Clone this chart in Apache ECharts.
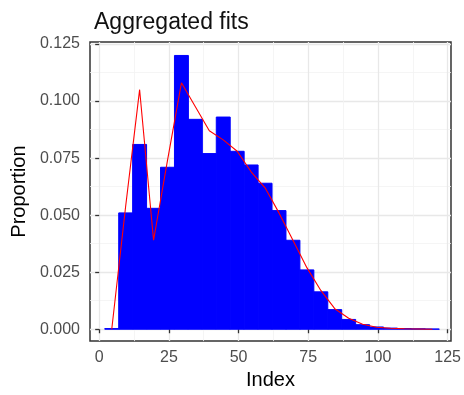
<!DOCTYPE html>
<html>
<head>
<meta charset="utf-8">
<script src="https://cdn.jsdelivr.net/npm/echarts@6/dist/echarts.min.js"></script>
<style>
  html, body { margin: 0; padding: 0; background: #fff; }
  #chart { width: 464px; height: 395px; }
</style>
</head>
<body>
<div id="chart"></div>
<script>
// bin centres (width 5) and observed proportions
const binCenters = [4.5, 9.5, 14.5, 19.5, 24.5, 29.5, 34.5, 39.5, 44.5, 49.5, 54.5, 59.5,
                    64.5, 69.5, 74.5, 79.5, 84.5, 89.5, 94.5, 99.5, 104.5, 109.5, 114.5, 119.5];
const proportion = [0.0003, 0.051, 0.081, 0.053, 0.071, 0.120, 0.092, 0.077, 0.093, 0.078, 0.072, 0.064,
                    0.052, 0.039, 0.026, 0.0164, 0.0086, 0.0043, 0.002, 0.001, 0.0005, 0.0003, 0.0002, 0.0001];
// aggregated fit (red line)
const fitted = [0, 0.054, 0.105, 0.039, 0.074, 0.108, 0.0975, 0.087, 0.083, 0.078, 0.069, 0.062,
                0.051, 0.039, 0.027, 0.017, 0.009, 0.0048, 0.0022, 0.0009, 0.0004, 0.0002, 0.0001, 0];
const binWidth = 5;

const xTicks = [0, 25, 50, 75, 100, 125];
const xMinor = [12.5, 37.5, 62.5, 87.5, 112.5];
const yTicks = [0, 0.025, 0.05, 0.075, 0.1, 0.125];
const yMinor = [0.0125, 0.0375, 0.0625, 0.0875, 0.1125];

const FONT = "'Liberation Sans', Arial, sans-serif";
const X_MIN = -3.3, X_MAX = 126.2;
const Y_MIN = -0.0052, Y_MAX = 0.1259;

const chart = echarts.init(document.getElementById('chart'));

const majorGrid = { show: true, lineStyle: { color: '#e8e8e8', width: 1.3 } };
const minorGrid = { show: true, lineStyle: { color: '#f3f3f3', width: 0.8 } };

const option = {
  animation: false,
  backgroundColor: '#fff',
  title: {
    text: 'Aggregated fits',
    left: 89,
    top: 6,
    textStyle: { fontFamily: FONT, fontSize: 23, fontWeight: 'normal', color: '#111' }
  },
  grid: {
    left: 90, top: 42, right: 11, bottom: 50,
    show: true, backgroundColor: '#fff', borderColor: '#333', borderWidth: 1.5
  },
  xAxis: [
    {
      type: 'value', min: X_MIN, max: X_MAX,
      name: 'Index', nameLocation: 'middle', nameGap: 28,
      nameTextStyle: { fontFamily: FONT, fontSize: 20, color: '#000' },
      axisLine: { show: false },
      axisTick: { show: true, length: 4, customValues: xTicks, lineStyle: { color: '#333', width: 1.3 } },
      axisLabel: { customValues: xTicks, margin: 8, fontFamily: FONT, fontSize: 16, color: '#4d4d4d' },
      splitLine: majorGrid
    },
    {
      type: 'value', min: X_MIN, max: X_MAX, position: 'bottom',
      axisLine: { show: false },
      axisTick: { show: false, customValues: xMinor },
      axisLabel: { show: false, customValues: xMinor },
      splitLine: minorGrid
    }
  ],
  yAxis: [
    {
      type: 'value', min: Y_MIN, max: Y_MAX,
      name: 'Proportion', nameLocation: 'middle', nameGap: 59,
      nameTextStyle: { fontFamily: FONT, fontSize: 20, color: '#000' },
      axisLine: { show: false },
      axisTick: { show: true, length: 4, customValues: yTicks, lineStyle: { color: '#333', width: 1.3 } },
      axisLabel: {
        customValues: yTicks, margin: 10, fontFamily: FONT, fontSize: 16, color: '#4d4d4d',
        formatter: v => v.toFixed(3)
      },
      splitLine: majorGrid
    },
    {
      type: 'value', min: Y_MIN, max: Y_MAX, position: 'left',
      axisLine: { show: false },
      axisTick: { show: false, customValues: yMinor },
      axisLabel: { show: false, customValues: yMinor },
      splitLine: minorGrid
    }
  ],
  series: [
    {
      type: 'custom',
      xAxisIndex: 0, yAxisIndex: 0,
      data: binCenters.map((c, i) => [c, proportion[i]]),
      renderItem: (params, api) => {
        const c = api.value(0);
        const v = api.value(1);
        const p0 = api.coord([c - binWidth / 2, v]);
        const p1 = api.coord([c + binWidth / 2, 0]);
        return {
          type: 'rect',
          shape: { x: p0[0], y: p0[1], width: p1[0] - p0[0], height: p1[1] - p0[1] },
          style: { fill: '#0000ff', stroke: '#0000ff', lineWidth: 1 }
        };
      },
      z: 2
    },
    {
      type: 'line',
      xAxisIndex: 0, yAxisIndex: 0,
      data: binCenters.map((c, i) => [c, fitted[i]]),
      showSymbol: false,
      symbol: 'none',
      lineStyle: { color: '#ff0000', width: 1.1 },
      z: 3
    }
  ]
};

chart.setOption(option);
</script>
</body>
</html>
